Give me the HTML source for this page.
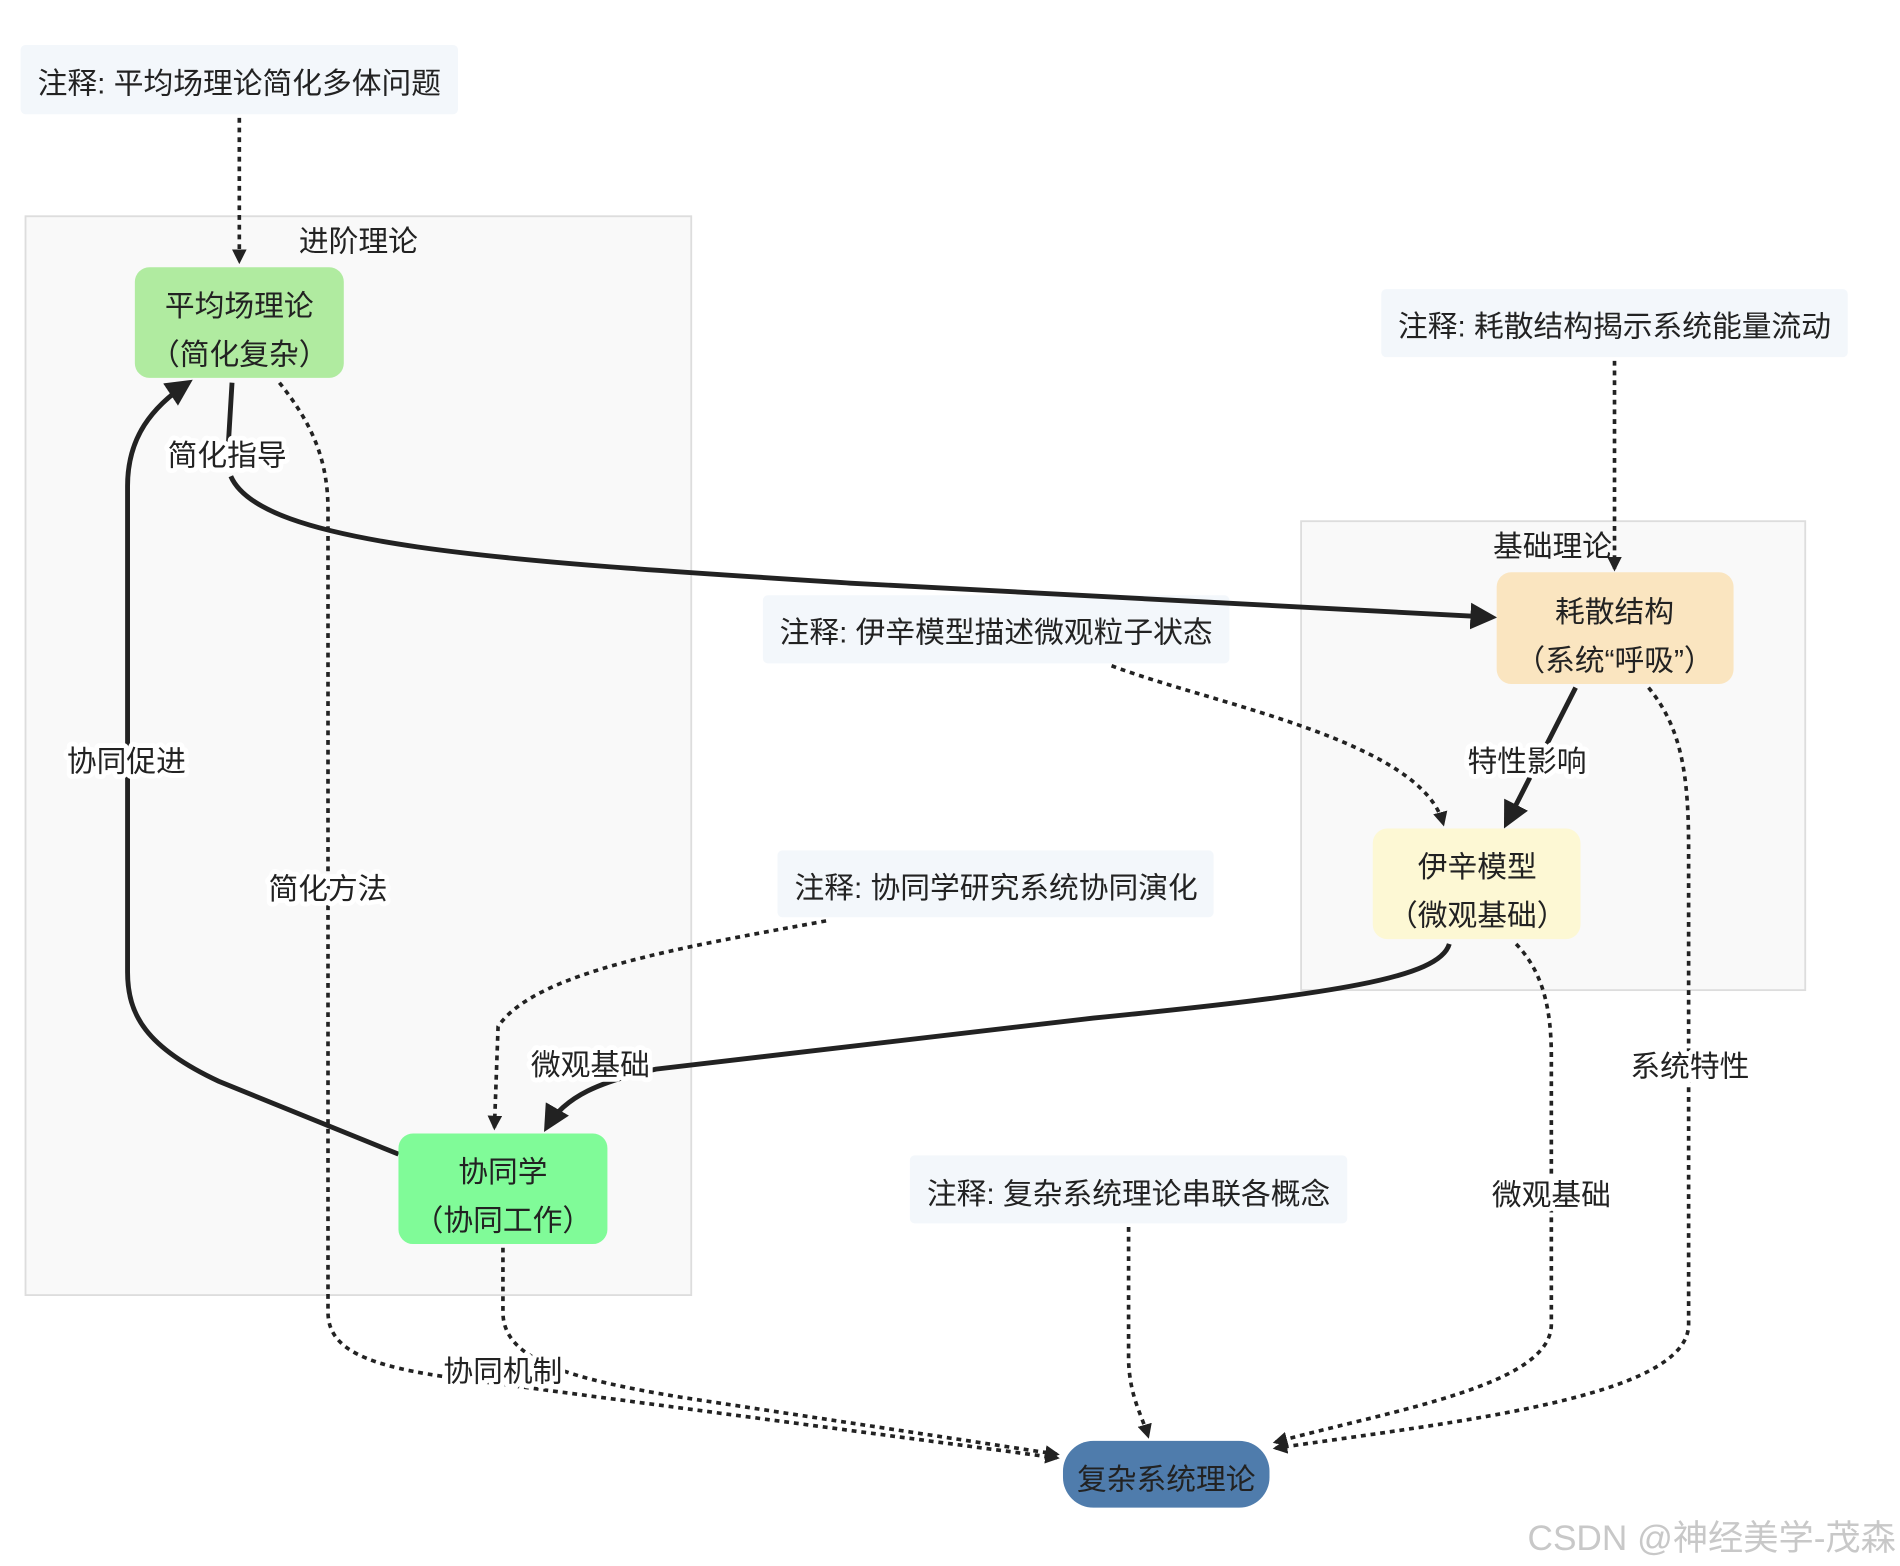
<!DOCTYPE html>
<html><head><meta charset="utf-8"><style>
html,body{margin:0;padding:0;background:#fff;}
svg{display:block;}
text{font-family:"Liberation Sans","Noto Sans CJK SC",sans-serif;fill:#222;}
.lb text{paint-order:stroke;stroke:#fff;stroke-width:8px;stroke-linejoin:round;}
</style></head><body>
<svg width="1900" height="1566" viewBox="0 0 1564 1289" preserveAspectRatio="none" xmlns="http://www.w3.org/2000/svg">
<defs>
<marker id="a" viewBox="0 0 10 10" refX="8" refY="5" markerWidth="5.5" markerHeight="5.5" orient="auto"><path d="M0,0 L10,5 L0,10 z" fill="#222"/></marker>
<marker id="b" viewBox="0 0 10 10" refX="8" refY="5" markerWidth="4" markerHeight="4" orient="auto"><path d="M0,0 L10,5 L0,10 z" fill="#222"/></marker>
</defs>
<rect x="21" y="178" width="548" height="888" fill="#f9f9f9" stroke="#ddd" stroke-width="1.5"/>
<text x="295" y="207" font-size="24.5" text-anchor="middle">进阶理论</text>
<rect x="1071" y="429" width="415" height="386" fill="#f9f9f9" stroke="#ddd" stroke-width="1.5"/>
<text x="1278" y="458" font-size="24.5" text-anchor="middle">基础理论</text>
<g font-size="24.5">
<rect x="17" y="37" width="360" height="57" rx="4" fill="#f3f7fb"/>
<text x="197" y="77" text-anchor="middle">注释: 平均场理论简化多体问题</text>
<rect x="1137" y="238" width="384" height="56" rx="4" fill="#f3f7fb"/>
<text x="1329" y="277" text-anchor="middle">注释: 耗散结构揭示系统能量流动</text>
<rect x="628" y="490" width="384" height="56" rx="4" fill="#f3f7fb"/>
<text x="820" y="529" text-anchor="middle">注释: 伊辛模型描述微观粒子状态</text>
<rect x="640" y="700" width="359" height="55" rx="4" fill="#f3f7fb"/>
<text x="820" y="739" text-anchor="middle">注释: 协同学研究系统协同演化</text>
<rect x="749" y="951" width="360" height="56" rx="4" fill="#f3f7fb"/>
<text x="929" y="991" text-anchor="middle">注释: 复杂系统理论串联各概念</text>
</g>
<g fill="none" stroke="#222" stroke-width="4">
<path d="M191,315 L188,365 M190,392 C215,450 420,462 700,480 L1228,508" marker-end="url(#a)"/>
<path d="M328,950 L180,890 C120,862 105,835 105,800 L105,400 C105,360 125,335 155,315" marker-end="url(#a)"/>
<path d="M1297,566 L1240,678" marker-end="url(#a)"/>
<path d="M1193,777 C1185,805 1100,818 900,838 L540,880 C495,890 465,902 450,928" marker-end="url(#a)"/>
</g>
<g fill="none" stroke="#222" stroke-width="3" stroke-dasharray="4,4">
<path d="M197,97 L197,215" marker-end="url(#b)"/>
<path d="M1329,297 L1329,468" marker-end="url(#b)"/>
<path d="M230,315 C258,350 270,380 270,420 L270,1080 C270,1110 300,1125 380,1135 L870,1200" marker-end="url(#b)"/>
<path d="M414,1027 L414,1080 C414,1120 470,1135 560,1150 L870,1197" marker-end="url(#b)"/>
<path d="M1248,777 C1270,800 1277,830 1277,870 L1277,1090 C1277,1140 1150,1160 1050,1187" marker-end="url(#b)"/>
<path d="M1357,566 C1385,600 1390,640 1390,700 L1390,1090 C1390,1150 1200,1170 1050,1192" marker-end="url(#b)"/>
<path d="M915,548 C1000,580 1170,610 1188,678" marker-end="url(#b)"/>
<path d="M680,758 C560,780 440,800 410,845 L407,928" marker-end="url(#b)"/>
<path d="M929,1010 L929,1120 C930,1150 940,1165 945,1182" marker-end="url(#b)"/>
</g>
<g class="lb" font-size="24.5" text-anchor="middle">
<text x="187" y="383">简化指导</text>
<text x="104" y="635">协同促进</text>
<text x="270" y="740">简化方法</text>
<text x="1257" y="635">特性影响</text>
<text x="486" y="885">微观基础</text>
<text x="1391" y="886">系统特性</text>
<text x="1277" y="992">微观基础</text>
<text x="414" y="1137">协同机制</text>
</g>
<g font-size="24.5" text-anchor="middle">
<rect x="111" y="220" width="172" height="91" rx="12" fill="#b0eba0"/>
<text x="197" y="260">平均场理论</text><text x="197" y="300">（简化复杂）</text>
<rect x="328" y="933" width="172" height="91" rx="12" fill="#80fb98"/>
<text x="414" y="973">协同学</text><text x="414" y="1013">（协同工作）</text>
<rect x="1232" y="471" width="195" height="92" rx="12" fill="#fae5c0"/>
<text x="1329" y="512">耗散结构</text><text x="1329" y="552">（系统“呼吸”）</text>
<rect x="1130" y="682" width="171" height="91" rx="12" fill="#fdf8d4"/>
<text x="1216" y="722">伊辛模型</text><text x="1216" y="762">（微观基础）</text>
<rect x="875" y="1186" width="170" height="55" rx="25" fill="#4f7cac"/>
<text x="960" y="1226">复杂系统理论</text>
</g>
<text x="1409" y="1276" font-size="29" text-anchor="middle" style="fill:#c8c8c8">CSDN @神经美学-茂森</text>
</svg>
</body></html>
